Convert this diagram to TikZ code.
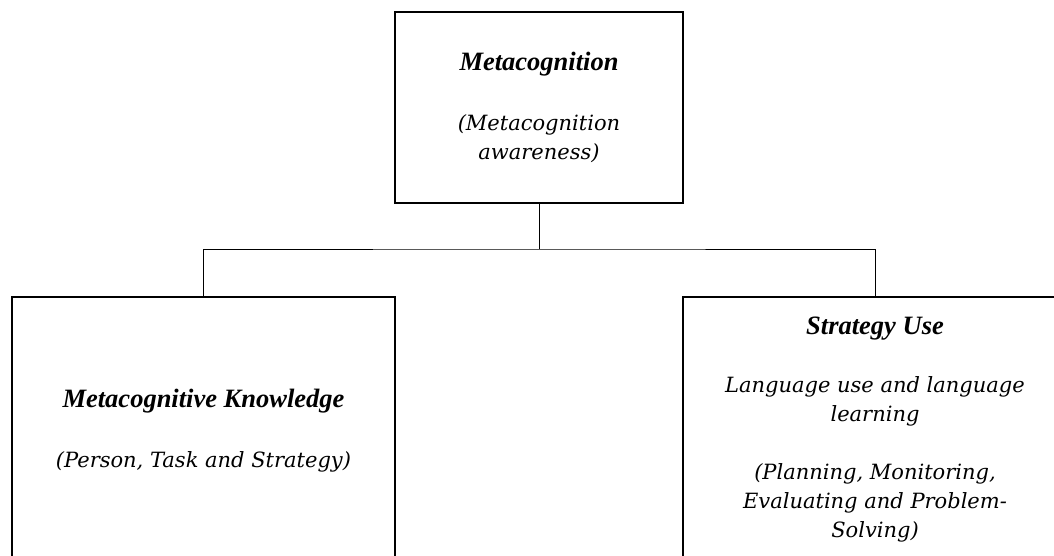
\documentclass[tikz,border=0pt]{standalone}
\usepackage{fontspec}
\setmainfont{DejaVu Serif}
\newfontfamily\headfont{Liberation Serif}
\newcommand{\hd}[1]{{\headfont\fontsize{26.5}{29}\selectfont\bfseries\itshape #1}}
\tikzset{
  box/.style={draw=black, line width=2pt, align=center, inner sep=0pt,
    font=\fontsize{21}{29}\selectfont\itshape},
  conn/.style={draw=black, line width=1pt},
}
\begin{document}
\begin{tikzpicture}[x=1pt, y=-1pt]
\useasboundingbox (0,0) rectangle (1054,555);
\clip (0,0) rectangle (1054,555);
\node[box, minimum width=288pt, minimum height=191pt] (top) at (539,107.5)
  {\hd{Metacognition}\\[31pt](Metacognition\\awareness)};
\node[box, minimum width=383pt, minimum height=268pt] (left) at (203.5,431)
  {\hd{Metacognitive Knowledge}\\[31pt](Person, Task and Strategy)};
\node[box, minimum width=384pt, minimum height=266pt] (right) at (875,430)
  {\hd{Strategy Use}\\[29pt]Language use and language\\learning\\[29pt](Planning, Monitoring,\\Evaluating and Problem-\\Solving)};
\coordinate (bus) at (539,249);
\draw[conn] (top.south) -- (bus);
\draw[conn] (left.north) |- (bus) -| (right.north);
\end{tikzpicture}
\end{document}
